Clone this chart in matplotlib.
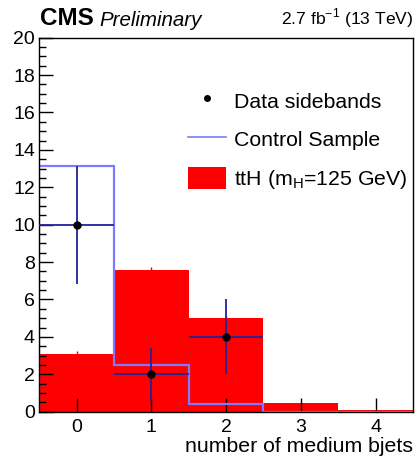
import numpy as np
import matplotlib
matplotlib.use("Agg")
import matplotlib.pyplot as plt
from matplotlib.lines import Line2D
from matplotlib.patches import Patch

plt.rcParams['font.family'] = ['Liberation Sans', 'DejaVu Sans']

bins = [0, 1, 2, 3, 4]
tth = [3.1, 7.6, 5.0, 0.45, 0.08]
tth_err = [0.12, 0.16, 0.12, 0.04, 0.02]
control = [13.15, 2.48, 0.4, 0.0, 0.0]
data = [10, 2, 4]
data_x = [0, 1, 2]
data_err = [3.16, 1.41, 2.0]

fig = plt.figure(figsize=(4.16, 4.59), dpi=100)
ax = fig.add_axes([0.094, 0.103, 0.899, 0.815])

edges = np.arange(len(bins) + 1) - 0.5
ax.bar(bins, tth, width=1.0, color='#ff0000', edgecolor='none', zorder=1)
ax.errorbar(bins, tth, yerr=tth_err, fmt='none', ecolor='#ff0000', elinewidth=1.0, zorder=1)
ax.stairs(control, edges, color='#7b7bff', linewidth=1.6, zorder=2)
ax.errorbar(data_x, data, xerr=0.5, yerr=data_err, fmt='o', color='black',
            ecolor='#22229a', elinewidth=1.3, markersize=5, capsize=0, zorder=3)

ax.set_xlim(-0.5, 4.5)
ax.set_ylim(0, 20)
ax.set_xticks(bins)
ax.set_yticks(np.arange(0, 21, 2))
ax.set_yticks(np.arange(0, 20.01, 0.5), minor=True)
ax.tick_params(axis='both', direction='in', labelsize=14, length=10, width=1.0)
ax.tick_params(axis='y', which='minor', direction='in', length=5, width=1.0)
ax.tick_params(axis='x', pad=5)
ax.tick_params(axis='y', pad=3)
for s in ax.spines.values():
    s.set_linewidth(1.0)

ax.set_xlabel('number of medium bjets', fontsize=15.3, loc='right', labelpad=1)

fig.text(0.096, 0.935, 'CMS', fontsize=17.5, fontweight='bold', ha='left', va='bottom')
fig.text(0.240, 0.935, 'Preliminary', fontsize=14.8, fontstyle='italic', ha='left', va='bottom')
fig.text(0.993, 0.935, r'2.7 fb$^{\mathregular{-1}}$ (13 TeV)', fontsize=12.6, ha='right', va='bottom')

handles = [
    Line2D([], [], marker='o', color='black', linestyle='none', markersize=4),
    Line2D([], [], color='#7b7bff', linewidth=1.2),
    Patch(facecolor='#ff0000', edgecolor='none'),
]
labels = ['Data sidebands', 'Control Sample', r'ttH (m$_{\mathregular{H}}$=125 GeV)']
leg = ax.legend(handles, labels, loc='upper left', bbox_to_anchor=(0.398, 0.862),
                frameon=False, fontsize=15.3, handlelength=1.78, handleheight=1.25,
                labelspacing=0.76, handletextpad=0.4, borderpad=0, borderaxespad=0)

fig.savefig('out.png', dpi=100)
